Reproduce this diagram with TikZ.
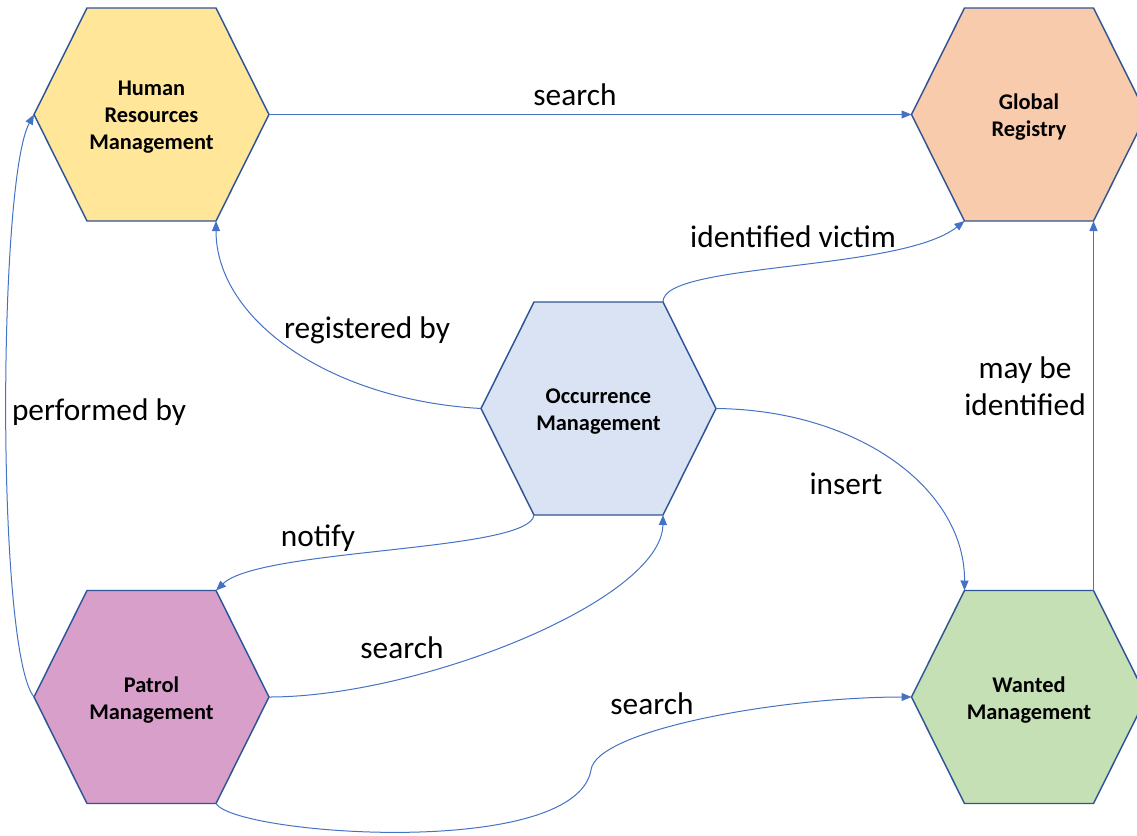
\documentclass[tikz,border=0pt]{standalone}
\usepackage{fontspec}
\setmainfont{Carlito}
\usetikzlibrary{arrows.meta}

\definecolor{hexline}{HTML}{2F5597}
\definecolor{connblue}{HTML}{4472C4}
\definecolor{hrfill}{HTML}{FFE699}
\definecolor{grfill}{HTML}{F8CBAD}
\definecolor{ocfill}{HTML}{DAE3F3}
\definecolor{pmfill}{HTML}{D89FCB}
\definecolor{wmfill}{HTML}{C5E0B4}

\tikzset{
  hexshape/.style={draw=hexline, line width=1.1pt, line join=miter},
  hextext/.style={inner sep=0pt, align=center,
    font=\bfseries\fontsize{16.8}{20.3}\selectfont},
  conn/.style={draw=connblue, line width=0.75pt,
    -{Triangle[length=7.5pt,width=6pt]}},
  lbl/.style={inner sep=0pt, align=center,
    font=\fontsize{23.5}{27.4}\selectfont},
}

% flat-topped hexagon: name, centre x, centre y, fill colour, label
\newcommand\hexagonnode[5]{%
  \coordinate (#1-w)  at ({#2-117.5},#3);
  \coordinate (#1-e)  at ({#2+117.5},#3);
  \coordinate (#1-tl) at ({#2-64.5},{#3-106.5});
  \coordinate (#1-tr) at ({#2+64.5},{#3-106.5});
  \coordinate (#1-bl) at ({#2-64.5},{#3+106.5});
  \coordinate (#1-br) at ({#2+64.5},{#3+106.5});
  \path[hexshape, fill=#4] (#1-w) -- (#1-tl) -- (#1-tr) -- (#1-e)
    -- (#1-br) -- (#1-bl) -- cycle;
  \node[hextext] (#1) at (#2,{#3+3}) {#5};
}

\begin{document}
\begin{tikzpicture}[x=0.75pt, y=-0.75pt]
  \useasboundingbox (0,0) rectangle (1137,835);
  \clip (0,0) rectangle (1137,835);

  \hexagonnode{hr}{151.5}{114.5}{hrfill}{Human\\Resources\\Management}
  \hexagonnode{gr}{1029}{114.5}{grfill}{Global\\Registry}
  \hexagonnode{oc}{598.5}{408.5}{ocfill}{Occurrence\\Management}
  \hexagonnode{pm}{151.5}{697}{pmfill}{Patrol\\Management}
  \hexagonnode{wm}{1029}{697}{wmfill}{Wanted\\Management}

  % connectors
  \draw[conn] (hr-e) -- (gr-w);
  \draw[conn] (pm-w) .. controls (-4,650) and (-2,180) .. (hr-w);
  \draw[conn] (oc-w) .. controls (330,400) and (216,320) .. (hr-br);
  \draw[conn] (oc-tr) .. controls (662,262) and (900,272) .. (gr-bl);
  \draw[conn] (oc-e) .. controls (860,410) and (965,490) .. (wm-tl);
  \draw[conn] (wm-tr) -- (gr-br);
  \draw[conn] (oc-bl) .. controls (530,552) and (260,548) .. (pm-tr);
  \draw[conn] (pm-e) .. controls (420,697) and (662,600) .. (oc-br);
  \coordinate (bend) at (591,770);
  \draw[conn] (pm-br) .. controls (235,835) and (575,860) .. (bend)
    .. controls (596,730) and (780,697) .. (wm-w);

  % connector labels
  \node[lbl] (l1) at (575,95) {search};
  \node[lbl] (l2) at (99,412) {performed by};
  \node[lbl] (l3) at (367,330) {registered by};
  \node[lbl] (l4) at (793,237) {identified victim};
  \node[lbl] (l5) at (846,484) {insert};
  \node[lbl] (l6) at (1025,386) {may be\\identified};
  \node[lbl] (l7) at (318,538) {notify};
  \node[lbl] (l8) at (402,648) {search};
  \node[lbl] (l9) at (652,704) {search};
\end{tikzpicture}
\end{document}
